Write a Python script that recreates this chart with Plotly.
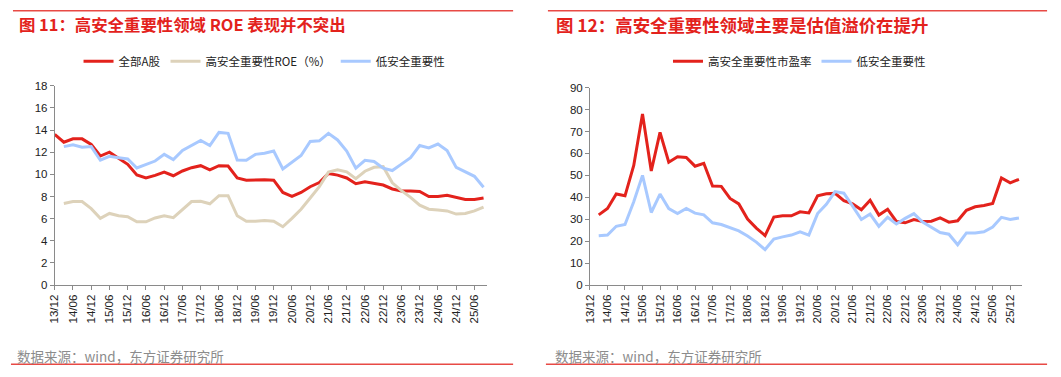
import plotly.graph_objects as go

W, H = 1061, 377

# ---------------- data ----------------
left_labels = ["13/12", "14/06", "14/12", "15/06", "15/12", "16/06", "16/12", "17/06",
               "17/12", "18/06", "18/12", "19/06", "19/12", "20/06", "20/12", "21/06",
               "21/12", "22/06", "22/12", "23/06", "23/12", "24/06", "24/12", "25/06"]
right_labels = left_labels + ["25/12"]

roe_all_a = [13.6, 12.9, 13.2, 13.2, 12.7, 11.65, 12.0, 11.45, 10.9, 9.95, 9.67, 9.9,
             10.2, 9.87, 10.3, 10.6, 10.78, 10.4, 10.78, 10.75, 9.67, 9.47, 9.5, 9.52,
             9.47, 8.36, 8.0, 8.36, 8.88, 9.26, 10.08, 9.93, 9.67, 9.15, 9.32, 9.18,
             9.03, 8.68, 8.5, 8.5, 8.45, 8.0, 8.0, 8.1, 7.92, 7.72, 7.72, 7.86]
roe_high = [7.37, 7.54, 7.54, 6.9, 6.03, 6.47, 6.26, 6.18, 5.71, 5.71, 6.06, 6.26,
            6.09, 6.85, 7.54, 7.57, 7.34, 8.07, 8.07, 6.26, 5.77, 5.77, 5.83, 5.77,
            5.27, 6.03, 6.85, 7.86, 8.88, 10.2, 10.4, 10.22, 9.61, 10.28, 10.63, 10.69,
            9.23, 8.53, 7.92, 7.22, 6.85, 6.79, 6.7, 6.41, 6.47, 6.7, 7.05]
roe_low = [12.5, 12.67, 12.44, 12.5, 11.27, 11.62, 11.5, 11.39, 10.57, 10.87, 11.2, 11.8,
           11.33, 12.15, 12.6, 13.05, 12.6, 13.78, 13.7, 11.3, 11.27, 11.8, 11.9, 12.1,
           10.49, 11.07, 11.7, 12.96, 13.02, 13.7, 13.1, 12.1, 10.55, 11.27, 11.16, 10.55,
           10.34, 10.92, 11.5, 12.6, 12.38, 12.73, 12.15, 10.63, 10.2, 9.82, 8.83]

pe_high = [32, 34.9, 41.5, 40.7, 54.5, 78, 52, 69.6, 56, 58.5, 58.2, 54.2, 55.5, 45.2,
           45, 39.5, 37, 30.1, 26, 22.6, 31, 31.6, 31.6, 33.4, 32.9, 40.7, 41.6, 41.8,
           38.5, 37, 34.3, 38.7, 31.9, 34.6, 29, 28.4, 29.9, 29, 29.1, 30.6, 28.7, 29.3,
           34.1, 35.7, 36.3, 37.2, 48.8, 46.6, 48.2]
pe_low = [22.5, 22.8, 26.8, 27.6, 38, 50, 33.1, 41.5, 34.9, 32.6, 34.9, 32.8, 32, 28.4,
          27.6, 26, 24.7, 22.4, 19.6, 16.2, 21, 22, 22.8, 24.3, 22.8, 32.6, 36.8, 42.6,
          41.9, 36, 29.9, 32.4, 26.8, 30.9, 27.9, 30.4, 32.6, 28.7, 26.2, 24, 23.2, 18.4,
          23.8, 23.8, 24.3, 26.5, 30.9, 29.9, 30.6]

RED = "#E3221C"
BEIGE = "#DDD2BA"
BLUE = "#A8C9FF"
AXIS = "#8A8A8A"
TXT = "#222222"
FONT = "Liberation Sans, Arial, Noto Sans CJK SC, sans-serif"
CJK = "Noto Sans CJK SC, Liberation Sans, sans-serif"

fig = go.Figure()

xl_all = list(range(len(roe_all_a)))
xl_q = list(range(1, len(roe_high) + 1))
xr = list(range(1, len(pe_high) + 1))

fig.add_trace(go.Scatter(x=xl_all, y=roe_all_a, mode="lines", name="全部A股",
                         line=dict(color=RED, width=3), xaxis="x", yaxis="y", legend="legend"))
fig.add_trace(go.Scatter(x=xl_q, y=roe_high, mode="lines", name="高安全重要性ROE（%）",
                         line=dict(color=BEIGE, width=3), xaxis="x", yaxis="y", legend="legend"))
fig.add_trace(go.Scatter(x=xl_q, y=roe_low, mode="lines", name="低安全重要性",
                         line=dict(color=BLUE, width=3), xaxis="x", yaxis="y", legend="legend"))

fig.add_trace(go.Scatter(x=xr, y=pe_high, mode="lines", name="高安全重要性市盈率",
                         line=dict(color=RED, width=3), xaxis="x2", yaxis="y2", legend="legend2"))
fig.add_trace(go.Scatter(x=xr, y=pe_low, mode="lines", name="低安全重要性",
                         line=dict(color=BLUE, width=3), xaxis="x2", yaxis="y2", legend="legend2"))


def px_x(p):
    return p / W


def px_y(p):
    return 1 - p / H


axis_common = dict(showgrid=False, zeroline=False, showline=True, linecolor=AXIS, linewidth=1,
                   ticks="outside", tickcolor=AXIS, ticklen=4, tickwidth=1,
                   tickfont=dict(family=FONT, size=11.5, color=TXT))

fig.update_layout(
    width=W, height=H,
    margin=dict(l=0, r=0, t=0, b=0),
    paper_bgcolor="white", plot_bgcolor="white",
    showlegend=True,
    xaxis=dict(domain=[px_x(49), px_x(483.3)], range=[0, 47.33],
               tickmode="array", tickvals=[2 * i for i in range(len(left_labels))],
               ticktext=left_labels, tickangle=-90, anchor="y", **axis_common),
    yaxis=dict(domain=[px_y(288.3), px_y(82.3)], range=[0, 18], dtick=2, tick0=0,
               anchor="x", **axis_common),
    xaxis2=dict(domain=[px_x(587.3), px_x(1021.7)], range=[0, 49.34],
                tickmode="array", tickvals=[2 * i for i in range(len(right_labels))],
                ticktext=right_labels, tickangle=-90, anchor="y2", **axis_common),
    yaxis2=dict(domain=[px_y(288.3), px_y(84.3)], range=[0, 90], dtick=10, tick0=0,
                anchor="x2", **axis_common),
    legend=dict(orientation="h", x=px_x(260), xanchor="center", y=px_y(57), yanchor="middle",
                font=dict(family=CJK, size=11.5, color=TXT), itemwidth=30,
                bgcolor="rgba(0,0,0,0)", tracegroupgap=0),
    legend2=dict(orientation="h", x=px_x(798), xanchor="center", y=px_y(57), yanchor="middle",
                 font=dict(family=CJK, size=11.5, color=TXT), itemwidth=30,
                 bgcolor="rgba(0,0,0,0)", tracegroupgap=0),
)

# titles
fig.add_annotation(x=px_x(11), y=px_y(19), xref="paper", yref="paper", xanchor="left",
                   yanchor="middle", showarrow=False,
                   text="<b>图 11：高安全重要性领域 ROE 表现并不突出</b>",
                   font=dict(family=CJK, size=16.4, color=RED))
fig.add_annotation(x=px_x(551), y=px_y(19), xref="paper", yref="paper", xanchor="left",
                   yanchor="middle", showarrow=False,
                   text="<b>图 12：高安全重要性领域主要是估值溢价在提升</b>",
                   font=dict(family=CJK, size=17.4, color=RED))
# sources
for sx in (9, 550):
    fig.add_annotation(x=px_x(sx), y=px_y(361), xref="paper", yref="paper", xanchor="left",
                       yanchor="middle", showarrow=False,
                       text="数据来源：wind，东方证券研究所",
                       font=dict(family=CJK, size=13.5, color="#8C8C8C"))

# decorative red rules
for (x0, x1) in ((7, 510), (545, 1047)):
    fig.add_shape(type="line", xref="paper", yref="paper", x0=px_x(x0), x1=px_x(x1),
                  y0=px_y(5), y1=px_y(5), line=dict(color="#E84A45", width=1.5))
for (x0, x1) in ((5, 510), (543, 1047)):
    fig.add_shape(type="line", xref="paper", yref="paper", x0=px_x(x0), x1=px_x(x1),
                  y0=px_y(370), y1=px_y(370), line=dict(color="#E84A45", width=1.5))

fig.write_html("out.html")
